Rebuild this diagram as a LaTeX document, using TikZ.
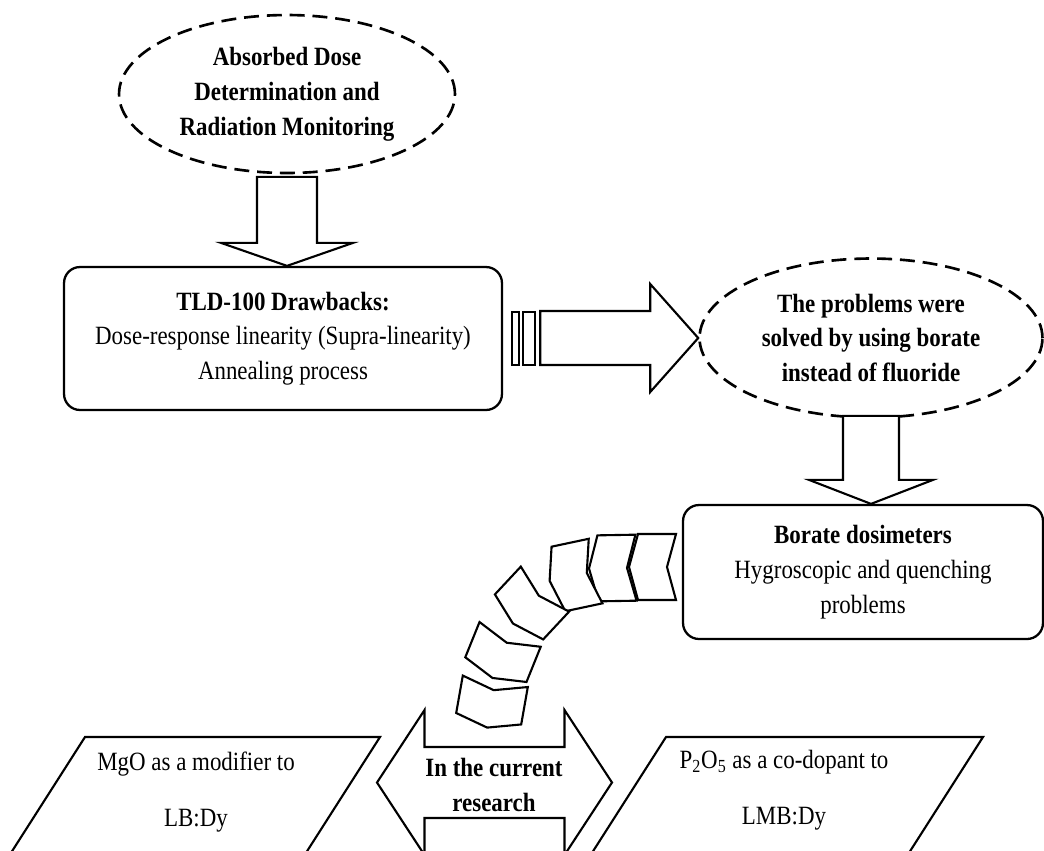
\documentclass[tikz,border=0pt]{standalone}
\usepackage{fontspec}
\setmainfont{Liberation Serif}[FakeStretch=0.87]
\usepackage{tikz}
\usetikzlibrary{shapes.geometric,calc}

\begin{document}
\begin{tikzpicture}[x=0.02cm, y=-0.02cm,
        every node/.style={font=\fontsize{15}{19.8}\selectfont, align=center, inner sep=0pt},
        oval/.style={draw, ellipse, line width=1.5pt, dash pattern=on 8.5pt off 4.5pt, fill=white},
        box/.style={draw, rounded corners=0.32cm, line width=1.3pt, fill=white},
        blk/.style={draw, line width=1.2pt, fill=white, line join=miter},
        chev/.pic={\draw[blk] (-19,-33) -- (19,-33) -- (28,0) -- (19,33) -- (-19,33) -- (-10,0) -- cycle;}]
        \useasboundingbox[fill=white] (0,0) rectangle (1044,850);
        \clip (0,0) rectangle (1044,850);
        \node[oval, minimum width=6.72cm, minimum height=3.16cm] (absorbed) at (287,94) {\textbf{Absorbed Dose}\\\textbf{Determination and}\\\textbf{Radiation Monitoring}};
        \node[box, minimum width=8.76cm, minimum height=2.86cm] (tld) at (283,338.5) {\textbf{TLD-100 Drawbacks:}\\Dose-response linearity (Supra-linearity)\\Annealing process};
        \node[oval, minimum width=6.86cm, minimum height=3.18cm] (solved) at (871,338) {\textbf{The problems were}\\\textbf{solved by using borate}\\\textbf{instead of fluoride}};
        \node[box, minimum width=7.2cm, minimum height=2.68cm] (borate) at (863,572) {\textbf{Borate dosimeters}\\Hygroscopic and quenching\\problems};
        \coordinate (dbl) at (494.5,782.5);
        \draw[blk] (absorbed.south |- tld.north) -- ++(-66,-23) -- ++(36,0) -- ++(0,-66) -- ++(60,0) -- ++(0,66) -- ++(36,0) -- cycle;
        \draw[blk] (tld.east) ++(9,-26.5) rectangle ++(7,53);
        \draw[blk] (tld.east) ++(20,-26.5) rectangle ++(12,53);
        \draw[blk] (solved.west) -- ++(-48,-54) -- ++(0,27) -- ++(-110,0) -- ++(0,54) -- ++(110,0) -- ++(0,27) -- cycle;
        \draw[blk] (solved.south |- borate.north) -- ++(-62,-24) -- ++(34,0) -- ++(0,-64) -- ++(56,0) -- ++(0,64) -- ++(34,0) -- cycle;
        \foreach \cx/\cy/\ang in {657/567/180, 617/568/181, 577/575/192, 532/603/227, 503/652/248, 492/700/260}
            \pic[rotate=\ang] at (\cx,\cy) {chev};
        \draw[blk] (dbl) ++(-117.5,0) -- ++(47.5,-72.5) -- ++(0,37) -- ++(140,0) -- ++(0,-37) -- ++(47.5,72.5) -- ++(-47.5,72.5) -- ++(0,-37) -- ++(-140,0) -- ++(0,37) -- cycle;
        \draw[blk] (85,737) -- (380,737) -- ++(-115,180) -- ++(-295,0) -- cycle;
        \draw[blk] (666,737) -- (983,737) -- ++(-115,180) -- ++(-317,0) -- cycle;
        \node (cur) at (494,785) {\textbf{In the current}\\\textbf{research}};
        \node[anchor=north] (mgo) at (196,752) {MgO as a modifier to\\[12pt]LB:Dy};
        \node[anchor=north] (pfive) at (784,750) {P\textsubscript{2}O\textsubscript{5} as a co-dopant to\\[12pt]LMB:Dy};
    \end{tikzpicture}
\end{document}
